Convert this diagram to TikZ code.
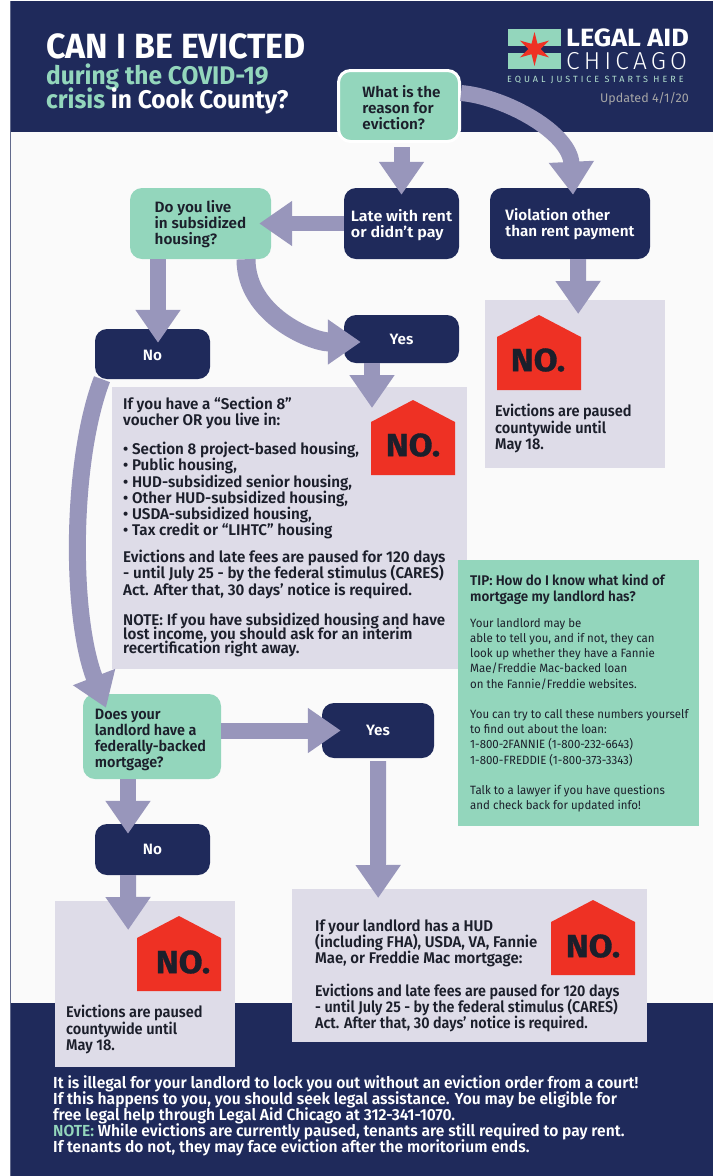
\documentclass[tikz,border=0pt]{standalone}
\usepackage{fontspec}
\setmainfont{Fira Sans}
\newfontfamily\fstd{Fira Sans}[FakeStretch=0.98,BoldFont={Fira Sans SemiBold}]
\newfontfamily\fshort{Fira Sans}[FakeStretch=0.94,BoldFont={Fira Sans SemiBold}]
\newfontfamily\fq{Fira Sans}[FakeStretch=1.02,BoldFont={Fira Sans SemiBold}]
\newfontfamily\fqw{Fira Sans}[FakeStretch=1.07,BoldFont={Fira Sans SemiBold}]
\newfontfamily\fqn{Fira Sans}[FakeStretch=0.96,BoldFont={Fira Sans SemiBold}]
\newfontfamily\fcnd{Fira Sans}[FakeStretch=0.925,BoldFont={Fira Sans SemiBold}]
\newfontfamily\fcndw{Fira Sans}[FakeStretch=0.965,BoldFont={Fira Sans SemiBold}]
\newfontfamily\ffoot{Fira Sans}[FakeStretch=0.975,BoldFont={Fira Sans SemiBold}]
\newfontfamily\ftip{Fira Sans}[FakeStretch=0.955]
\newfontfamily\ftipb{Fira Sans}[FakeStretch=0.96,BoldFont={Fira Sans SemiBold}]
\newfontfamily\ftitle{Fira Sans}[FakeStretch=0.97]
\newfontfamily\fsub{Fira Sans}[FakeStretch=0.96]
\newfontfamily\flogoa{Fira Sans}[FakeStretch=1.08]
\newfontfamily\flogob{Fira Sans Light}[LetterSpace=17]
\newfontfamily\flogoc{Fira Sans}[LetterSpace=33]
\newfontfamily\fno{Fira Sans}[FakeStretch=1.08,FakeBold=1]
\usetikzlibrary{arrows.meta,shapes.geometric}
\definecolor{navy}{HTML}{1F2A5B}
\definecolor{mint}{HTML}{93D6BC}
\definecolor{arrowc}{HTML}{9896BB}
\definecolor{panel}{HTML}{DEDCE8}
\definecolor{stopred}{HTML}{EE3124}
\definecolor{inkc}{HTML}{1C1F2B}
\tikzset{
  x=1pt,y=1pt,
  every node/.append style={execute at begin node={\lineskiplimit=-30pt\relax}},
  q/.style={rectangle,rounded corners=12pt,fill=mint,inner sep=0pt,align=left,text=inkc,font=\fq\bfseries\fontsize{15}{16.2}\selectfont},
  a/.style={rectangle,rounded corners=12pt,fill=navy,inner sep=0pt,align=left,text=white,font=\fq\bfseries\fontsize{15}{16.2}\selectfont},
  pn/.style={rectangle,fill=panel,inner sep=0pt,anchor=north west},
  blk/.style={draw=arrowc,line width=16pt,-{Triangle[width=43pt,length=33pt]}},
  para/.style={anchor=north west,inner sep=0pt,align=left,text=inkc,font=\fstd\bfseries\fontsize{15.5}{16.2}\selectfont},
  cpara/.style={anchor=north west,inner sep=0pt,align=left,text=inkc,font=\fcnd\bfseries\fontsize{15.5}{16}\selectfont},
  nomark/.style={inner sep=0pt,text=inkc,font=\fno\bfseries\fontsize{32}{32}\selectfont},
}
\newcommand{\stophouse}[2]{\fill[stopred] (#1,#2) -- ++(0,-53) -- ++(84,0) -- ++(0,53) -- ++(-42,22) -- cycle;}
\begin{document}
\begin{tikzpicture}
\useasboundingbox (0,0) rectangle (713,-1176);
\fill[white] (0,0) rectangle (713,-1176);
\fill[black!2] (10,-1) rectangle (713,-1176);
\fill[navy] (10,-1) rectangle (713,-132);
\fill[navy] (10,-1003) rectangle (713,-1176);
\draw[navy!70,line width=0.7pt] (10,-1) -- (10,-1176);
% title
\node[anchor=north west,inner sep=0,text depth=0pt,text=white,font=\ftitle\bfseries\fontsize{35}{35}\selectfont] (t1) at (46,-33) {CAN I BE EVICTED};
\node[anchor=north west,inner sep=0,text=white,align=left,font=\fsub\bfseries\fontsize{25.5}{24.5}\selectfont] (t2) at (46,-63.5) {\textcolor{mint}{during the COVID-19}\\\textcolor{mint}{crisis} in Cook County?};
% logo
\fill[mint] (508,-29) rectangle (561,-46);
\fill[mint] (508,-53) rectangle (561,-69);
\fill[stopred] (534.5,-32) -- (537.5,-43.8) -- (549.2,-40.5) -- (540.5,-49) -- (549.2,-57.5) -- (537.5,-54.2) -- (534.5,-66) -- (531.5,-54.2) -- (519.8,-57.5) -- (528.5,-49) -- (519.8,-40.5) -- (531.5,-43.8) -- cycle;
\node[anchor=west,inner sep=0,text=white,font=\flogoa\bfseries\fontsize{25}{25}\selectfont] (l1) at (566,-38) {LEGAL AID};
\node[anchor=west,inner sep=0,text=white,font=\flogob\fontsize{24.5}{25}\selectfont] (l2) at (566,-61.5) {CHICAGO};
\node[anchor=west,inner sep=0,text=mint!70!white,font=\flogoc\fontsize{9}{9}\selectfont] (l3) at (507,-79.5) {EQUAL JUSTICE STARTS HERE};
\node[anchor=east,inner sep=0,text=black!35,font=\fontsize{12.5}{12.5}\selectfont] (l4) at (689,-99) {Updated 4/1/20};
% question and answer boxes
\node[q,draw=white,line width=3pt,minimum width=121pt,minimum height=71pt] (what) at (399,-106) {\hspace*{5pt}\rule{0pt}{15.5pt}What is the\\\hspace*{5pt}reason for\\\hspace*{5pt}eviction?};
\node[a,font=\fqw\bfseries\fontsize{15}{16.2}\selectfont,minimum width=115pt,minimum height=71pt] (late) at (401.5,-223.5) {\rule{0pt}{15.5pt}Late with rent\\or didn’t pay};
\node[a,minimum width=160pt,minimum height=71pt] (viol) at (570,-223.5) {\rule{0pt}{13.5pt}Violation other\\than rent payment};
\node[q,minimum width=141pt,minimum height=71pt] (live) at (200.5,-223.5) {\rule{0pt}{13.5pt}Do you live\\in subsidized\\housing?};
\node[a,minimum width=115pt,minimum height=50pt] (no1) at (152.5,-354) {\rule{0pt}{13.5pt}No};
\node[a,minimum width=115pt,minimum height=48pt] (yes1) at (401.5,-339) {Yes};
\node[q,font=\fqn\bfseries\fontsize{15}{16.2}\selectfont,minimum width=138pt,minimum height=85pt] (does) at (152,-736.5) {\hspace*{-3pt}\rule{0pt}{17.5pt}Does your\\\hspace*{-3pt}landlord have a\\\hspace*{-3pt}federally-backed\\\hspace*{-3pt}mortgage?};
\node[a,minimum width=112pt,minimum height=55pt] (yes2) at (378,-730.5) {Yes};
\node[a,minimum width=115pt,minimum height=51pt] (no2) at (152.5,-849.5) {No};
% panels
\node[pn,minimum width=355pt,minimum height=282pt] (box1) at (112,-387) {};
\node[pn,minimum width=180pt,minimum height=168pt] (box2) at (485,-300) {};
\node[pn,minimum width=180pt,minimum height=166pt] (box3) at (55,-901) {};
\node[pn,minimum width=355pt,minimum height=153pt] (box4) at (292,-889) {};
\node[pn,fill=mint,minimum width=241pt,minimum height=266pt] (tip) at (458,-560) {};
% houses
\stophouse{371}{-422}
\node[nomark] (n1) at (413,-445) {NO.};
\stophouse{497}{-337}
\node[nomark] (n2) at (538,-360) {NO.};
\stophouse{137}{-938}
\node[nomark] (n3) at (183,-962) {NO.};
\stophouse{551}{-922}
\node[nomark] (n4) at (593,-946) {NO.};
% panel texts
\node[para] (p1) at (123,-397) {If you have a “Section 8”\\voucher OR you live in:};
\node[para] (p2) at (123,-442) {• Section 8 project-based housing,\\• Public housing,\\• HUD-subsidized senior housing,\\• Other HUD-subsidized housing,\\• USDA-subsidized housing,\\• Tax credit or “LIHTC” housing};
\node[para] (p3) at (123,-550) {Evictions and late fees are paused for 120 days\\- until July 25 - by the federal stimulus (CARES)\\Act. After that, 30 days’ notice is required.};
\node[para,font=\fstd\bfseries\fontsize{15.5}{14}\selectfont] (p4) at (123,-612.5) {NOTE: If you have subsidized housing and have\\lost income, you should ask for an interim\\recertification right away.};
\node[para,font=\fshort\bfseries\fontsize{15.5}{16.5}\selectfont] (p5) at (495,-404) {Evictions are paused\\countywide until\\May 18.};
\node[para,font=\fshort\bfseries\fontsize{15.5}{16.5}\selectfont] (p6) at (66,-1005) {Evictions are paused\\countywide until\\May 18.};
\node[cpara,font=\fcndw\bfseries\fontsize{15.5}{16}\selectfont] (p7) at (315,-920) {If your landlord has a HUD\\(including FHA), USDA, VA, Fannie\\Mae, or Freddie Mac mortgage:};
\node[cpara] (p8) at (315,-983.5) {Evictions and late fees are paused for 120 days\\- until July 25 - by the federal stimulus (CARES)\\Act. After that, 30 days’ notice is required.};
\node[para,font=\ftipb\bfseries\fontsize{14}{16.5}\selectfont] (p9) at (470,-574) {TIP: How do I know what kind of\\mortgage my landlord has?};
\node[para,font=\ftip\fontsize{12}{15.2}\selectfont] (p10) at (470,-618) {Your landlord may be\\able to tell you, and if not, they can\\look up whether they have a Fannie\\Mae/Freddie Mac-backed loan\\on the Fannie/Freddie websites.\\[15.2pt]You can try to call these numbers yourself\\to find out about the loan:\\1-800-2FANNIE (1-800-232-6643)\\1-800-FREDDIE (1-800-373-3343)\\[15.2pt]Talk to a lawyer if you have questions\\and check back for updated info!};
\node[para,text=white,font=\ffoot\bfseries\fontsize{16}{16}\selectfont] (p11) at (53,-1075) {It is illegal for your landlord to lock you out without an eviction order from a court!\\If this happens to you, you should seek legal assistance. You may be eligible for\\free legal help through Legal Aid Chicago at 312-341-1070.\\\textcolor{mint}{NOTE:} While evictions are currently paused, tenants are still required to pay rent.\\If tenants do not, they may face eviction after the moritorium ends.};
% arrows
\draw[blk] ([yshift=-4pt]what.south-|late.north) -- ([yshift=-7pt]late.north);
\draw[blk] ([yshift=13pt]what.east) .. controls +(45,-4) and +(-3,62) .. ([xshift=3pt,yshift=-7pt]viol.north);
\draw[blk,line width=15pt] (late.west) -- ([xshift=-12pt]live.east);
\draw[blk] ([xshift=-42.5pt]live.south) -- ([xshift=5.5pt,yshift=-14pt]no1.north);
\draw[blk,line width=19pt] ([xshift=45.5pt]live.south) .. controls +(0,-55) and +(-50,0) .. ([xshift=17pt,yshift=-3pt]yes1.west);
\draw[blk] ([xshift=-29.5pt]yes1.south) -- ([xshift=-29.5pt,yshift=-21pt]yes1.south|-box1.north);
\draw[blk,line width=17pt] ([xshift=-50.5pt]no1.south) .. controls +(-31,-81) and +(-36,93) .. ([xshift=-46pt,yshift=-14pt]does.north);
\draw[blk] (does.east|-yes2.west) -- ([xshift=19pt]yes2.west);
\draw[blk] ([xshift=-24pt]does.south) -- ([xshift=-24.5pt,yshift=-10pt]no2.north);
\draw[blk] ([xshift=-24.5pt]no2.south) -- ([xshift=-17pt,yshift=-29pt]box3.north);
\draw[blk] ([yshift=-3pt]yes2.south) -- ([xshift=-91.5pt,yshift=-9pt]box4.north);
\draw[blk] ([xshift=8pt]viol.south) -- ([xshift=3pt,yshift=-14pt]box2.north);
\end{tikzpicture}
\end{document}
